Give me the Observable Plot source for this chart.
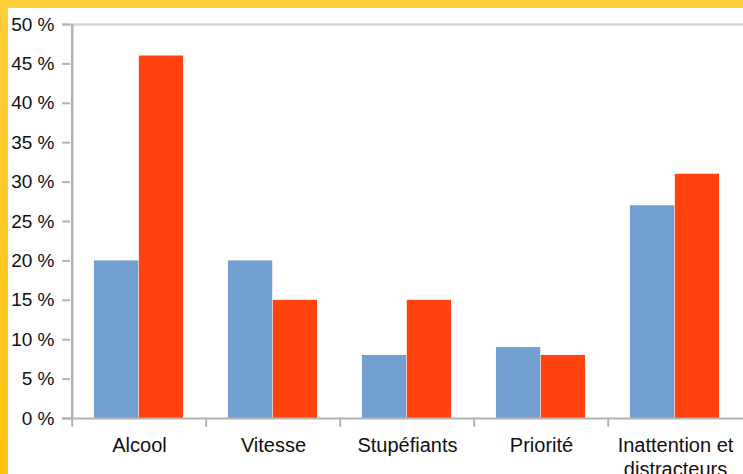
<!DOCTYPE html>
<html><head><meta charset="utf-8">
<script src="https://cdn.jsdelivr.net/npm/d3@7"></script>
<script src="https://cdn.jsdelivr.net/npm/@observablehq/plot@0.6"></script>
<style>
html,body{margin:0;padding:0;width:743px;height:474px;overflow:hidden;}
body{background:linear-gradient(to bottom,#ffce3a,#ffc20e);}
#wrap{position:absolute;left:8px;top:8px;width:735px;height:466px;background:#fff;overflow:hidden;}
</style></head><body><div id="wrap"></div>
<script>
const categories = ["Alcool","Vitesse","Stupéfiants","Priorité","Inattention et\ndistracteurs"];
const series1 = [20,20,8,9,27];
const series2 = [46,15,15,8,31];
const yTicks = [0,5,10,15,20,25,30,35,40,45,50];
const colors = ["#729fcf","#ff420e"];

const W=735,H=466,mL=62,mR=0,mT=16,mB=56;
const bw=(W-mL-mR)/categories.length;
const rows1 = categories.map((c,i)=>({c, v: series1[i]}));
const rows2 = categories.map((c,i)=>({c, v: series2[i]}));
const axisStroke = "#b3b3b3";
const chart = Plot.plot({
  width:W,height:H,marginLeft:mL,marginRight:mR,marginTop:mT,marginBottom:mB,
  style:{fontFamily:"'Liberation Sans', Arial, sans-serif", fontSize:"19px", color:"#111", background:"white", overflow:"visible"},
  x:{type:"band", domain:categories, padding:0, label:null},
  y:{domain:[0,50], label:null},
  marks:[
    Plot.ruleY([50],{stroke:"#d6d6d6",strokeWidth:2.5,insetLeft:-8}),
    Plot.barY(rows1,{x:"c",y:"v",fill:colors[0],insetLeft:bw*22/135,insetRight:bw-bw*67/135}),
    Plot.barY(rows2,{x:"c",y:"v",fill:colors[1],insetLeft:bw*67/135,insetRight:bw-bw*112/135}),
    Plot.ruleX(categories,{x:d=>d,y1:-1.1,y2:0,dx:-bw/2,stroke:axisStroke,strokeWidth:2}),
    Plot.ruleX([categories[0]],{x:d=>d,y1:0,y2:50,dx:-bw/2,stroke:axisStroke,strokeWidth:2.5}),
    Plot.ruleY([0],{insetLeft:-8,stroke:axisStroke,strokeWidth:2}),
    Plot.axisY({ticks:yTicks,tickFormat:d=>d+" %",tickSize:8,tickPadding:8,stroke:axisStroke,strokeWidth:2,strokeOpacity:1,fill:"#111",fontSize:19,label:null}),
    Plot.axisX({tickSize:0,tickPadding:16,lineHeight:1.2,fill:"#111",fontSize:20,label:null})
  ]
});
document.getElementById("wrap").appendChild(chart);
</script></body></html>
